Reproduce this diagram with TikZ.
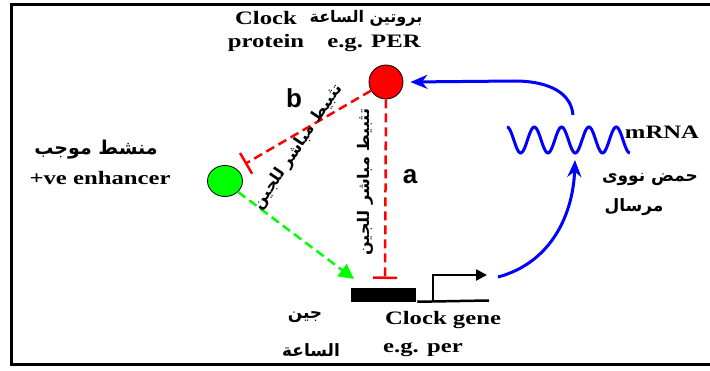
\documentclass[tikz,border=0pt]{standalone}
\usepackage{graphicx}
\usepackage{fontspec}
\setmainfont{Liberation Serif}
\newfontfamily\arabicfont[Script=Arabic]{DejaVu Sans}
\newfontfamily\labelfont{Liberation Sans}
\TeXXeTstate=1
\usetikzlibrary{arrows.meta,shapes.geometric}
\newcommand{\wide}[1]{\scalebox{1.3}[1]{#1}}
\newcommand{\artext}[1]{{\arabicfont\bfseries\beginR #1\endR}}
\tikzset{
  protein dot/.style={
    circle, fill=red, draw=black, thick, inner sep=0pt, minimum size=34pt
  },
  enhancer dot/.style={
    ellipse, fill=green, draw=black, thick, inner sep=0pt,
    minimum width=35pt, minimum height=31pt
  },
  gene box/.style={
    rectangle, fill=black, inner sep=0pt, minimum width=65pt, minimum height=14pt
  },
  inhibit/.style={
    red, line width=2.5pt, dash pattern=on 9pt off 5pt,
    -{Bar[width=24pt, line width=2.5pt]}
  },
  activate/.style={
    green, line width=2.5pt, dash pattern=on 9pt off 5pt,
    -{Triangle[length=15pt, width=15pt]}
  },
  mrna/.style={blue, line width=3pt},
  promoter/.style={black, line width=2.5pt, -{Triangle[length=11pt, width=11pt]}},
  txt/.style={font=\bfseries\fontsize{19}{23}\selectfont, inner sep=0pt, align=center},
  artxt/.style={font=\fontsize{17}{27}\selectfont, inner sep=0pt, align=center},
  lbl/.style={font=\labelfont\bfseries\fontsize{26}{26}\selectfont, inner sep=0pt}
}

\begin{document}
\begin{tikzpicture}[x=1pt, y=-1pt, line width=2.5pt]
\useasboundingbox (0,0) rectangle (710,371);

% ---------------------------
% frame
% ---------------------------
\draw[line width=3pt] (710,5) -- (11.5,5) -- (11.5,365) -- (710,365);

% ---------------------------
% protein, enhancer, gene
% ---------------------------
\node[protein dot] (P) at (386,82) {};
\node[enhancer dot] (E) at (225,181) {};
\node[gene box] (G) at (383.5,295) {};

\coordinate (A) at (385,279);
\coordinate (B) at (245,164);
\coordinate (T) at (354,279);
\coordinate (GE) at (489,300.5);
\coordinate (TS) at (433,300.5);
\coordinate (TE) at (487,275);
\coordinate (M) at (498,277);
\coordinate (W1) at (573,115);
\coordinate (W2) at (575,160);
\coordinate (K) at (515,81);

\draw ([yshift=1.5pt]G.south east) -- (GE);
\draw[promoter] (TS) |- (TE);

% inhibition a and b
\draw[inhibit] (P.south) -- (A);
\draw[inhibit] (P.210) -- (B);

% enhancer to gene
\draw[activate] (E.-40) -- (T);

% ---------------------------
% mRNA loop
% ---------------------------
\draw[mrna] plot[domain=0:4.5, samples=120] ({507+27.3*\x},{140-13*cos(360*\x)});
\draw[mrna, -{Stealth[length=17pt, width=14pt]}] (M) to[out=15, in=-92] (W2);
\draw[mrna, -{Stealth[length=17pt, width=14pt]}] (W1) to[out=95, in=0] (K) -- ([xshift=7pt]P.east);

% ---------------------------
% labels
% ---------------------------
\node[txt] (CP) at (266,31) {\wide{Clock}\\\wide{protein}};
\node[artxt, font=\fontsize{16}{20}\selectfont] (PA) at (366,18) {\artext{بروتين الساعة}};
\node[txt] (PE) at (374,43) {\wide{e.g. PER}};

\node[artxt, font=\fontsize{19}{22}\selectfont] (EA) at (96,150) {\artext{منشط موجب}};
\node[txt] (EN) at (100,178) {\wide{+ve enhancer}};

\node[artxt] (GA1) at (305,317) {\artext{جين}};
\node[artxt] (GA2) at (311,350) {\artext{الساعة}};
\node[txt] (GN) at (443,320) {\wide{Clock gene}};
\node[txt] (GP) at (423,350) {\wide{e.g. per}};

\node[txt] (MR) at (662,132) {\wide{mRNA}};
\node[artxt] (MA1) at (650,179) {\artext{حمض نووى}};
\node[artxt] (MA2) at (634,207) {\artext{مرسال}};

\node[lbl] (LB) at (294,98) {b};
\node[lbl] (LA) at (410,177) {a};

\node[artxt, rotate=90, font=\fontsize{16}{20}\selectfont] (RA) at (365,182) {\artext{تثبيط مباشر للجين}};
\node[artxt, rotate=56, font=\fontsize{16}{20}\selectfont] (RB) at (298,147) {\artext{تثبيط مباشر للجين}};

\end{tikzpicture}
\end{document}
